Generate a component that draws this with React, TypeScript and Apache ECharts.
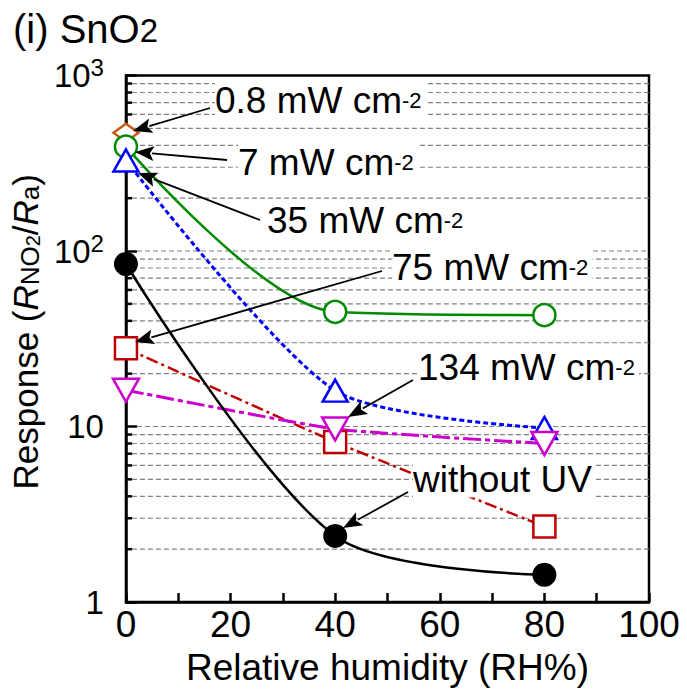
import React, { useEffect, useRef } from "react";
import * as echarts from "echarts";

// ---- data ----
const humidity = [0, 40, 80];
const uv08 = [472];
const uv7 = [393, 45, 43.1];
const uv35 = [328, 16.0, 9.8];
const uv75 = [27.9, 8.16, 2.69];
const uv134 = [16.1, 9.68, 8.0];
const noUV = [84.3, 2.38, 1.43];

const gridValues = [2, 3, 4, 5, 6, 7, 8, 9, 10, 20, 30, 40, 50, 60, 70, 80, 90, 100, 200, 300, 400, 500, 600, 700, 800, 900];
const majorValues = [10, 100];

const FONT = "Liberation Sans, Arial, sans-serif";

function pairs(vals: number[]) {
  return vals.map((v, i) => [humidity[i], v]);
}

function arrow(x1: number, y1: number, x2: number, y2: number) {
  const dx = x2 - x1;
  const dy = y2 - y1;
  const len = Math.sqrt(dx * dx + dy * dy);
  const ux = dx / len;
  const uy = dy / len;
  const L = 19;
  const W = 7.5;
  const bx = x2 - ux * L;
  const by = y2 - uy * L;
  const nx = -uy;
  const ny = ux;
  return [
    {
      type: "line",
      z: 100,
      shape: { x1, y1, x2: bx + ux * 2, y2: by + uy * 2 },
      style: { stroke: "#000", lineWidth: 1.8 },
    },
    {
      type: "polygon",
      z: 100,
      shape: {
        points: [
          [x2, y2],
          [bx + nx * W, by + ny * W],
          [bx + ux * 4, by + uy * 4],
          [bx - nx * W, by - ny * W],
        ],
      },
      style: { fill: "#000" },
    },
  ];
}

const annRich = {
  a: { fontSize: 37, fontFamily: FONT, color: "#000", lineHeight: 37 },
  s: { fontSize: 22, fontFamily: FONT, color: "#000", lineHeight: 22 },
};

function label(text: string, x: number, baseline: number) {
  return {
    type: "text",
    z: 99,
    x,
    y: baseline - 13,
    style: {
      text,
      rich: annRich,
      verticalAlign: "middle",
      align: "left",
      backgroundColor: "#fff",
      padding: [0, 4, 0, 0],
    },
  };
}

export default function App() {
  const ref = useRef<HTMLDivElement>(null);
  useEffect(() => {
    if (!ref.current) return;
    const chart = echarts.init(ref.current, undefined, { renderer: "svg" });
    const lineBase = (name: string, data: number[], color: string) => ({
      name,
      type: "line",
      data: pairs(data),
      clip: false,
      z: 5,
      lineStyle: { color, width: 2.5 },
      itemStyle: { color: "#fff", borderColor: color, borderWidth: 2.5 },
      showSymbol: true,
    });
    const option: any = {
      animation: false,
      grid: {
        left: 123,
        right: 38,
        top: 75.5,
        bottom: 92,
        show: true,
        borderColor: "#000",
        borderWidth: 2.5,
        backgroundColor: "transparent",
      },
      xAxis: {
        type: "value",
        min: 0,
        max: 100,
        interval: 10,
        name: "Relative humidity (RH%)",
        nameLocation: "middle",
        nameGap: 47,
        nameTextStyle: { fontSize: 37, fontFamily: FONT, color: "#000", lineHeight: 37 },
        axisLine: { lineStyle: { color: "#000", width: 2.5 } },
        axisTick: { inside: true, length: 9, lineStyle: { color: "#000", width: 2.5 } },
        axisLabel: {
          margin: 4,
          fontSize: 37,
          lineHeight: 37,
          fontFamily: FONT,
          color: "#000",
          formatter: (v: number) => (v % 20 === 0 ? String(v) : ""),
        },
        splitLine: { show: false },
      },
      yAxis: {
        type: "log",
        logBase: 10,
        min: 1,
        max: 1000,
        name: "{a|Response (}{i|R}{sub|NO}{sub2|2}{a|/}{i|R}{sub|a}{a|)}",
        nameLocation: "middle",
        nameRotate: 90,
        nameGap: 64,
        nameTextStyle: {
          padding: [0, 0, 0, 14],
          rich: {
            a: { fontSize: 35, fontFamily: FONT, color: "#000", lineHeight: 35 },
            i: { fontSize: 35, fontFamily: FONT, color: "#000", fontStyle: "italic", lineHeight: 35 },
            sub: { fontSize: 26, fontFamily: FONT, color: "#000", lineHeight: 16, verticalAlign: "bottom" },
            sub2: { fontSize: 20, fontFamily: FONT, color: "#000", lineHeight: 6, verticalAlign: "bottom" },
          },
        },
        axisLine: { lineStyle: { color: "#000", width: 2.5 } },
        axisTick: { inside: true, length: 11, lineStyle: { color: "#000", width: 2.5 } },
        axisLabel: {
          margin: 22,
          formatter: (v: number) => {
            if (v === 1) return "{n|1}";
            if (v === 10) return "{n|10}";
            if (v === 100) return "{n|10}{s|2}";
            return "{n|10}{s|3}";
          },
          rich: {
            n: { fontSize: 33, fontFamily: FONT, color: "#000", lineHeight: 40 },
            s: { fontSize: 24, fontFamily: FONT, color: "#000", lineHeight: 14, verticalAlign: "top" },
          },
        },
        splitLine: { show: false },
      },
      graphic: [
        {
          type: "text",
          x: 13,
          y: 29,
          z: 100,
          style: {
            text: "{a|(i) SnO}{b|2}",
            verticalAlign: "middle",
            rich: {
              a: { fontSize: 40, fontFamily: FONT, color: "#000", lineHeight: 36 },
              b: { fontSize: 33, fontFamily: FONT, color: "#000", lineHeight: 14, verticalAlign: "bottom" },
            },
          },
        },
        label("{a|0.8 mW cm}{s|-2}", 215, 113),
        ...arrow(210, 108, 133, 131),
        label("{a|7 mW cm}{s|-2}", 238, 175),
        ...arrow(227, 160, 135, 152),
        label("{a|35 mW cm}{s|-2}", 267, 233),
        ...arrow(260, 220, 138, 173),
        label("{a|75 mW cm}{s|-2}", 392, 280),
        ...arrow(382, 271, 135, 342),
        label("{a|134 mW cm}{s|-2}", 418, 380),
        ...arrow(413, 380, 348, 417),
        label("{a|without UV}", 413, 492),
        ...arrow(408, 492, 343, 528),
      ],
      series: [
        {
          type: "custom",
          silent: true,
          clip: false,
          z: 1,
          data: gridValues.map((v) => [0, v]),
          renderItem: (params: any, api: any) => {
            const v = api.value(1);
            const p0 = api.coord([0, v]);
            const p1 = api.coord([100, v]);
            const major = majorValues.indexOf(v) >= 0;
            const children: any[] = [
              {
                type: "line",
                shape: { x1: p0[0] + (major ? 11 : 6), y1: p0[1], x2: p1[0], y2: p1[1] },
                style: { stroke: "#808080", lineWidth: 1.2, lineDash: [5, 3] },
              },
            ];
            if (!major) {
              children.push({
                type: "line",
                shape: { x1: p0[0], y1: p0[1], x2: p0[0] + 6, y2: p0[1] },
                style: { stroke: "#000", lineWidth: 2.5 },
              });
            }
            return { type: "group", children };
          },
        },
        {
          ...lineBase("0.8 mW", uv08, "#C55A11"),
          symbol: "diamond",
          symbolSize: [25, 18],
        },
        {
          ...lineBase("7 mW", uv7, "#008A00"),
          smooth: 0.3,
          symbol: "circle",
          symbolSize: 22,
        },
        {
          ...lineBase("35 mW", uv35, "#0000FF"),
          smooth: 0.25,
          symbol: "triangle",
          symbolSize: [25, 22],
          lineStyle: { color: "#0000FF", width: 3, type: [5, 3] },
        },
        {
          ...lineBase("75 mW", uv75, "#C00000"),
          smooth: 0.15,
          symbol: "rect",
          symbolSize: 22,
          lineStyle: { color: "#C00000", width: 2.5, type: [12, 4, 3, 4] },
        },
        {
          ...lineBase("134 mW", uv134, "#CC00CC"),
          smooth: 0.15,
          symbol: "triangle",
          symbolRotate: 180,
          symbolSize: [26, 23],
          lineStyle: { color: "#CC00CC", width: 3, type: [18, 4, 5, 4] },
        },
        {
          ...lineBase("without UV", noUV, "#000"),
          smooth: 0.3,
          symbol: "circle",
          symbolSize: 24,
          itemStyle: { color: "#000", borderColor: "#000", borderWidth: 0 },
        },
      ],
    };
    chart.setOption(option);
    return () => chart.dispose();
  }, []);
  return <div ref={ref} style={{ width: 687, height: 694, position: "absolute", left: 0, top: 0 }} />;
}
